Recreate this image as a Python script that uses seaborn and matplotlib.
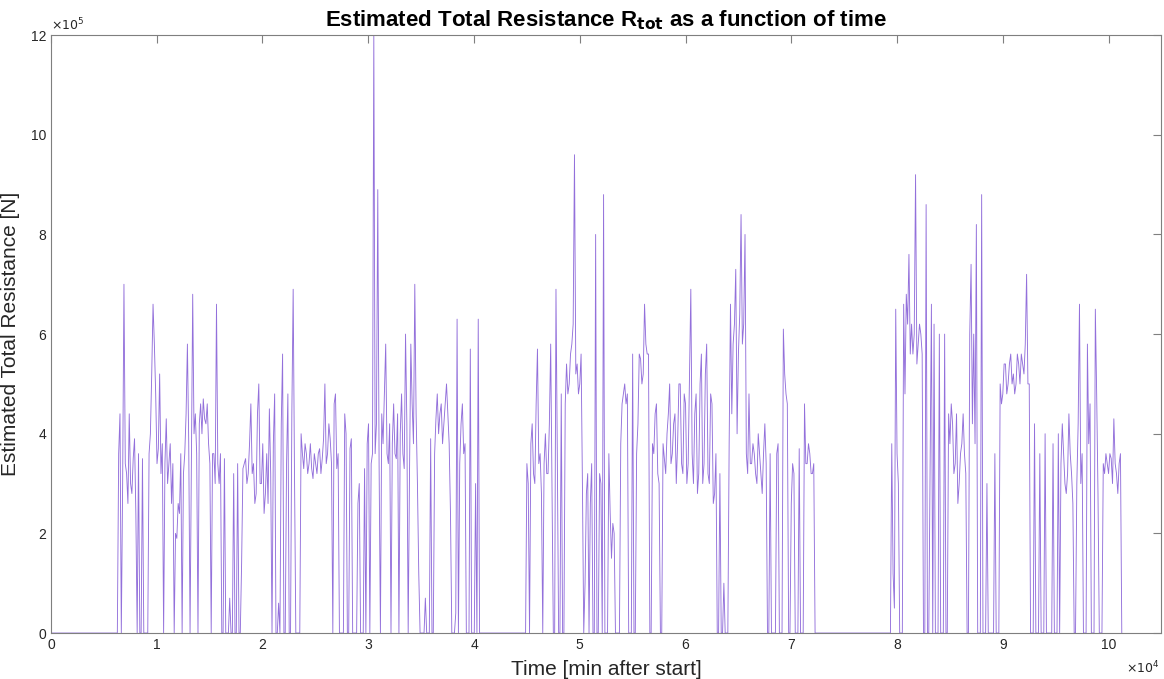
import numpy as np
import pandas as pd
import matplotlib
matplotlib.use('Agg')
import matplotlib.pyplot as plt
import seaborn as sns

# values, resistance in 1e5 N, time in 1e4 min
step = 0.0125

start_a = 0.64
block_a = [
    3.6, 4.4, 0.0, 3.0, 7.0, 3.4, 3.2, 2.6, 4.4, 3.0, 2.8, 3.5, 3.9, 2.4, 0.0, 3.6,
    0.0, 0.0, 3.5, 0.0, 0.0, 0.0, 0.0, 3.6, 4.0, 5.2, 6.6, 5.8, 4.8, 3.4, 3.7, 5.2,
    3.2, 3.8, 0.0, 3.4, 4.3, 3.0, 3.4, 3.8, 2.6, 3.4, 0.0, 2.0, 1.9, 2.6, 2.4, 3.6,
    0.0, 3.2, 3.6, 4.4, 5.8, 3.8, 0.0, 3.4, 6.8, 4.0, 4.4, 3.6, 0.0, 4.2, 4.6, 4.0,
    4.7, 4.3, 4.2, 4.6, 3.8, 3.4, 0.0, 3.6, 3.6, 3.0, 6.6, 3.4, 3.0, 3.6, 0.0, 0.0,
    3.5, 0.0, 0.0, 0.0, 0.7, 0.0, 0.0, 3.2, 0.0, 0.0, 3.4, 0.0, 0.0, 1.4, 3.3, 3.4,
    3.5, 3.0, 3.2, 3.8, 4.6, 3.2, 3.4, 2.6, 2.8, 4.4, 5.0, 3.0, 3.0, 3.8, 2.4, 2.8,
    3.6, 2.6, 4.5, 3.2, 0.0, 3.8, 4.8, 0.0, 0.0, 0.6, 0.0, 4.2, 5.6, 0.0, 0.0, 3.4,
    4.8, 0.0, 0.0, 4.4, 6.9, 3.2, 0.0, 0.0, 0.0, 0.0, 4.0, 3.6, 3.3, 3.8, 3.6, 3.2,
    3.4, 3.8, 3.3, 3.1, 3.6, 3.4, 3.2, 3.6, 3.7, 3.2, 3.5, 3.9, 5.0, 3.4, 3.6, 4.2,
    3.9, 3.4, 0.0, 4.6, 4.8, 3.3, 3.6, 0.0, 0.0, 0.0, 0.0, 4.4, 4.0, 0.0, 0.0, 3.7,
    3.9, 0.0, 0.0, 0.0, 0.0, 2.6, 3.0, 0.0, 0.0, 0.0, 3.3, 0.0, 3.8, 4.2, 0.0, 3.4,
    3.6, 12.0, 3.6, 4.2, 8.9, 3.4, 0.0, 4.4, 3.8, 4.8, 5.8, 3.6, 3.4, 4.2, 0.0, 3.8,
    4.6, 3.6, 3.5, 4.4, 0.0, 4.0, 4.8, 3.6, 3.3, 6.0, 4.2, 0.0, 3.2, 5.8, 4.6, 3.8,
    7.0, 4.4, 3.0, 1.2, 0.0, 0.0, 0.0, 0.0, 0.7, 0.0, 0.0, 0.0, 3.9, 0.0, 0.0, 3.6,
    4.3, 4.8, 4.0, 4.4, 4.6, 3.8, 4.2, 4.6, 5.0, 4.4, 3.8, 2.4, 0.0, 0.0, 0.0, 0.4,
    6.3, 0.0, 3.4, 4.2, 4.6, 3.6, 3.8, 0.0, 0.0, 0.0, 5.7, 0.0, 0.0, 0.0, 3.0, 0.0,
    6.3, 0.0, 0.0, 0.0, 0.0,
]

start_b = 4.50
block_b = [
    3.4, 3.0, 0.0, 3.8, 4.2, 3.2, 3.0, 4.6, 5.7, 3.4, 3.6, 2.8, 0.0, 3.4, 4.0, 3.2,
    3.2, 4.2, 5.8, 3.0, 0.0, 0.0, 6.9, 3.6, 0.0, 0.0, 4.8, 0.0, 0.0, 4.6, 5.4, 4.8,
    5.0, 5.6, 5.8, 6.2, 9.6, 5.2, 5.4, 4.8, 5.0, 5.6, 3.0, 0.0, 1.0, 2.8, 3.2, 0.0,
    2.6, 3.4, 0.0, 0.0, 8.0, 0.0, 0.0, 3.2, 3.0, 0.0, 8.8, 0.0, 0.0, 0.0, 3.6, 2.4,
    1.5, 2.2, 2.0, 0.0, 0.0, 0.0, 0.0, 3.8, 4.6, 4.8, 5.0, 4.6, 4.8, 0.0, 0.0, 0.0,
    5.6, 0.0, 0.0, 3.6, 4.2, 5.6, 5.5, 5.0, 5.2, 6.6, 5.8, 5.6, 5.6, 0.0, 0.0, 3.8,
    3.6, 4.4, 4.6, 3.2, 3.0, 0.0, 0.0, 3.8, 3.5, 3.2, 4.0, 4.4, 5.0, 3.4, 3.6, 4.2,
    4.4, 3.0, 3.8, 5.0, 5.0, 3.4, 3.2, 4.8, 4.6, 3.0, 3.4, 5.2, 6.9, 3.6, 3.0, 4.4,
    4.8, 2.8, 3.2, 5.0, 5.6, 3.0, 3.4, 5.2, 5.8, 3.2, 3.0, 4.8, 4.6, 2.6, 2.8, 3.6,
    0.0, 0.0, 3.2, 0.0, 0.0, 1.0, 0.0, 0.0, 0.0, 3.8, 6.6, 4.4, 5.8, 6.2, 7.3, 4.0,
    5.6, 6.4, 8.4, 5.8, 6.2, 8.0, 3.6, 3.2, 4.8, 3.4, 3.4, 3.8, 3.6, 3.2, 3.0, 4.0,
    3.6, 3.2, 2.8, 3.6, 4.2, 3.4, 0.0, 0.0, 3.6, 0.0, 0.0, 0.0, 0.0, 3.6, 3.8, 0.0,
    0.0, 0.0, 6.1, 5.2, 4.8, 4.6, 0.0, 0.0, 2.6, 3.4, 3.2, 0.0, 0.0, 0.0, 3.7, 0.0,
    0.0, 0.0, 4.6, 3.4, 3.4, 3.8, 3.6, 3.2, 3.2, 3.4,
]

start_c = 7.95
block_c = [
    3.8, 1.2, 0.5, 6.5, 3.6, 3.0, 0.0, 0.0, 0.0, 6.6, 4.8, 6.8, 6.2, 7.6, 5.6, 6.2,
    5.6, 6.0, 9.2, 5.4, 5.8, 6.2, 6.0, 5.6, 0.0, 0.0, 8.6, 0.0, 0.0, 3.4, 6.6, 0.0,
    6.2, 0.0, 0.0, 0.0, 6.0, 0.0, 0.0, 0.0, 6.0, 0.0, 0.0, 4.4, 3.8, 4.6, 4.2, 3.2,
    3.4, 4.4, 2.6, 3.0, 3.6, 3.8, 4.4, 3.6, 3.2, 0.0, 0.0, 6.0, 7.4, 4.2, 6.0, 3.8,
    8.2, 0.0, 0.0, 0.0, 8.8, 0.0, 0.0, 0.0, 3.0, 0.0, 0.0, 0.0, 0.0, 0.0, 3.6, 0.0,
    0.0, 0.0, 5.0, 4.6, 4.8, 5.4, 5.4, 4.8, 5.0, 5.4, 5.6, 5.0, 5.2, 4.8, 5.0, 5.6,
    5.4, 5.0, 5.6, 5.4, 5.2, 5.8, 7.2, 5.0, 5.0, 0.0, 0.0, 0.0, 4.2, 0.0, 0.0, 0.0,
    3.6, 0.0, 0.0, 0.0, 4.0, 0.0, 0.0, 0.0, 0.0, 0.0, 3.8, 0.0, 0.0, 0.0, 4.0, 0.0,
    3.4, 4.2, 3.6, 3.0, 2.8, 3.2, 4.4, 3.6, 3.2, 2.6, 0.0, 0.0, 3.0, 4.2, 6.6, 3.0,
    3.6, 0.0, 0.0, 0.0, 5.8, 3.8, 4.6, 0.0, 0.0, 0.0, 6.5, 4.8, 2.8, 0.0, 0.0, 0.0,
    3.4, 3.2, 3.6, 3.4, 3.2, 3.6, 3.5, 3.0, 4.3, 3.4, 3.2, 2.8, 3.4, 3.6,
]

# stitch the blocks together, resistance is zero in between
parts = [pd.DataFrame({'t': [0.0], 'r': [0.0]})]
for start, vals in [(start_a, block_a), (start_b, block_b), (start_c, block_c)]:
    t = start + step * np.arange(len(vals))
    parts.append(pd.DataFrame({'t': np.r_[start - step, t, t[-1] + step],
                               'r': np.r_[0.0, vals, 0.0]}))
df = pd.concat(parts, ignore_index=True)

sns.set_style("white")
plt.rcParams['font.family'] = ['Liberation Sans', 'DejaVu Sans']

fig = plt.figure(figsize=(11.64, 6.79), dpi=100)
ax = fig.add_axes([0.0438, 0.0677, 0.954, 0.8805])
sns.lineplot(data=df, x='t', y='r', color='#9370DB', linewidth=0.65, alpha=1.0, ax=ax)

ax.set_xlim(0, 10.5)
ax.set_ylim(0, 12)
ax.set_xticks(range(0, 11))
ax.set_yticks(range(0, 13, 2))
ax.tick_params(direction='in', length=6, width=0.8, colors='#7f7f7f',
               labelcolor='#262626', labelsize=10, top=True, right=True)
for s in ax.spines.values():
    s.set_color('#7f7f7f')
    s.set_linewidth(0.8)

ax.set_title(r'Estimated Total Resistance R$_{\mathbf{tot}}$ as a function of time',
             fontsize=16, fontweight='bold', color='black', pad=6)
ax.set_xlabel('Time [min after start]', fontsize=15, color='#262626', labelpad=6)
ax.set_ylabel('Estimated Total Resistance [N]', fontsize=15, color='#262626', labelpad=8)
ax.text(0.0, 1.003, r'$\times10^5$', transform=ax.transAxes, fontsize=9,
        color='#262626', va='bottom', ha='left')
ax.text(0.998, -0.045, r'$\times10^4$', transform=ax.transAxes, fontsize=9,
        color='#262626', va='top', ha='right')

plt.savefig('out.png', dpi=100)
plt.close()
